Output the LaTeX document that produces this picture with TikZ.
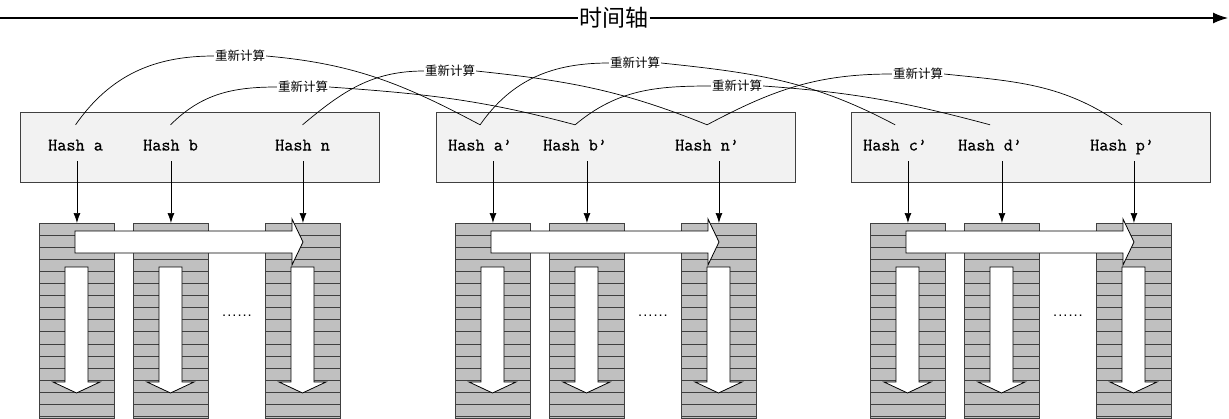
\documentclass[tikz,border=0pt]{standalone}
\usepackage{fontspec}
\newfontfamily\cjk{Noto Sans CJK SC}
\newfontfamily\hashfont[FakeBold=0.6]{Latin Modern Mono}
\newfontfamily\dotfont{DejaVu Sans Mono}
\usetikzlibrary{arrows.meta}

\definecolor{boxgray}{HTML}{F2F2F2}
\definecolor{bargray}{HTML}{C0C0C0}
\definecolor{linegray}{HTML}{404040}

\tikzset{
    hashbox/.style={draw=linegray, fill=boxgray, line width=0.9pt, minimum width=359pt, minimum height=70pt, inner sep=0pt, anchor=north west},
    hashtext/.style={font=\hashfont\fontsize{17.7}{20}\selectfont, anchor=west, text height=15pt, text depth=0pt, minimum height=36pt, inner sep=0pt},
    colbar/.style={draw=linegray, fill=bargray, line width=0.9pt, minimum width=75pt, minimum height=195pt, inner sep=0pt, anchor=north west},
    stripe/.style={linegray, line width=0.9pt},
    bigarrow/.style={draw=black, fill=white, line width=0.8pt},
    downarr/.style={-{Latex[length=10pt,width=7pt]}, line width=0.7pt},
    recalc/.style={font=\cjk\fontsize{12.5}{13}\selectfont, fill=white, inner sep=1pt},
    link/.style={line width=0.7pt}
}

\begin{document}
\begin{tikzpicture}[x=1pt,y=1pt]
    \useasboundingbox (0,0) rectangle (1229,-418);

    % time axis
    \coordinate (t0) at (0,-18);
    \coordinate (t1) at (1228,-18);
    \node[font=\cjk\fontsize{23}{24}\selectfont, inner sep=1pt] (axis) at (614,-18) {时间轴};
    \draw[line width=1.3pt] (t0) -- (axis.west);
    \draw[line width=1.3pt, -{Latex[length=15pt,width=11pt]}] (axis.east) -- (t1);

    % three snapshots
    \foreach \g/\dx/\sx/\ta/\tb/\tn in {1/0/16/a/b/n, 2/416/0/a’/b’/n’, 3/831/0/c’/d’/p’} {
        % bars
        \foreach \c/\cx in {1/39, 2/133, 3/265} {
            \node[colbar] (col\g\c) at (\dx+\cx,-223) {};
            \foreach \k in {1,...,16}
                \draw[stripe] (\dx+\cx,-223-12.1*\k) -- ++(75,0);
            \filldraw[bigarrow] (\dx+\cx+26,-267) -- (\dx+\cx+49,-267) -- (\dx+\cx+49,-382)
                -- (\dx+\cx+61,-382) -- (\dx+\cx+37.5,-393) -- (\dx+\cx+14,-382)
                -- (\dx+\cx+26,-382) -- cycle;
        }
        \filldraw[bigarrow] (\dx+75,-231) -- (\dx+292,-231) -- (\dx+292,-219) -- (\dx+303,-242)
            -- (\dx+292,-265) -- (\dx+292,-253) -- (\dx+75,-253) -- cycle;
        \node[font=\dotfont\bfseries\fontsize{8.5}{9}\selectfont] (dots\g) at (\dx+237,-316) {......};

        % hash box
        \node[hashbox] (box\g) at (\dx+20,-112) {};
        \node[hashtext] (h\g1) at (\dx+\sx+32,-143) {Hash \ta};
        \node[hashtext] (h\g2) at (\dx+\sx+127,-143) {Hash \tb};
        \node[hashtext] (h\g3) at (\dx+\sx+259,-143) {Hash \tn};
        \foreach \c in {1,2,3}
            \draw[downarr] (col\g\c.north |- h\g\c.south) -- (col\g\c.north);
    }

    % recalculation links
    \node[recalc] (r1) at (240,-56) {重新计算};
    \node[recalc] (r2) at (303,-87) {重新计算};
    \node[recalc] (r3) at (450,-71) {重新计算};
    \node[recalc] (r4) at (635,-63) {重新计算};
    \node[recalc] (r5) at (737,-86) {重新计算};
    \node[recalc] (r6) at (918,-74) {重新计算};

    \foreach \from/\lbl/\to/\a/\b/\c in {h11/r1/h21/55/-5/152, h12/r2/h22/45/-4/165, h13/r3/h23/40/-6/158,
                                         h21/r4/h31/55/-6/152, h22/r5/h32/40/-4/165, h23/r6/h33/28/-6/145} {
        \draw[link] (\from.north) to[out=\a,in=180] (\lbl.west);
        \draw[link] (\lbl.east) to[out=\b,in=\c] (\to.north);
    }
\end{tikzpicture}
\end{document}
